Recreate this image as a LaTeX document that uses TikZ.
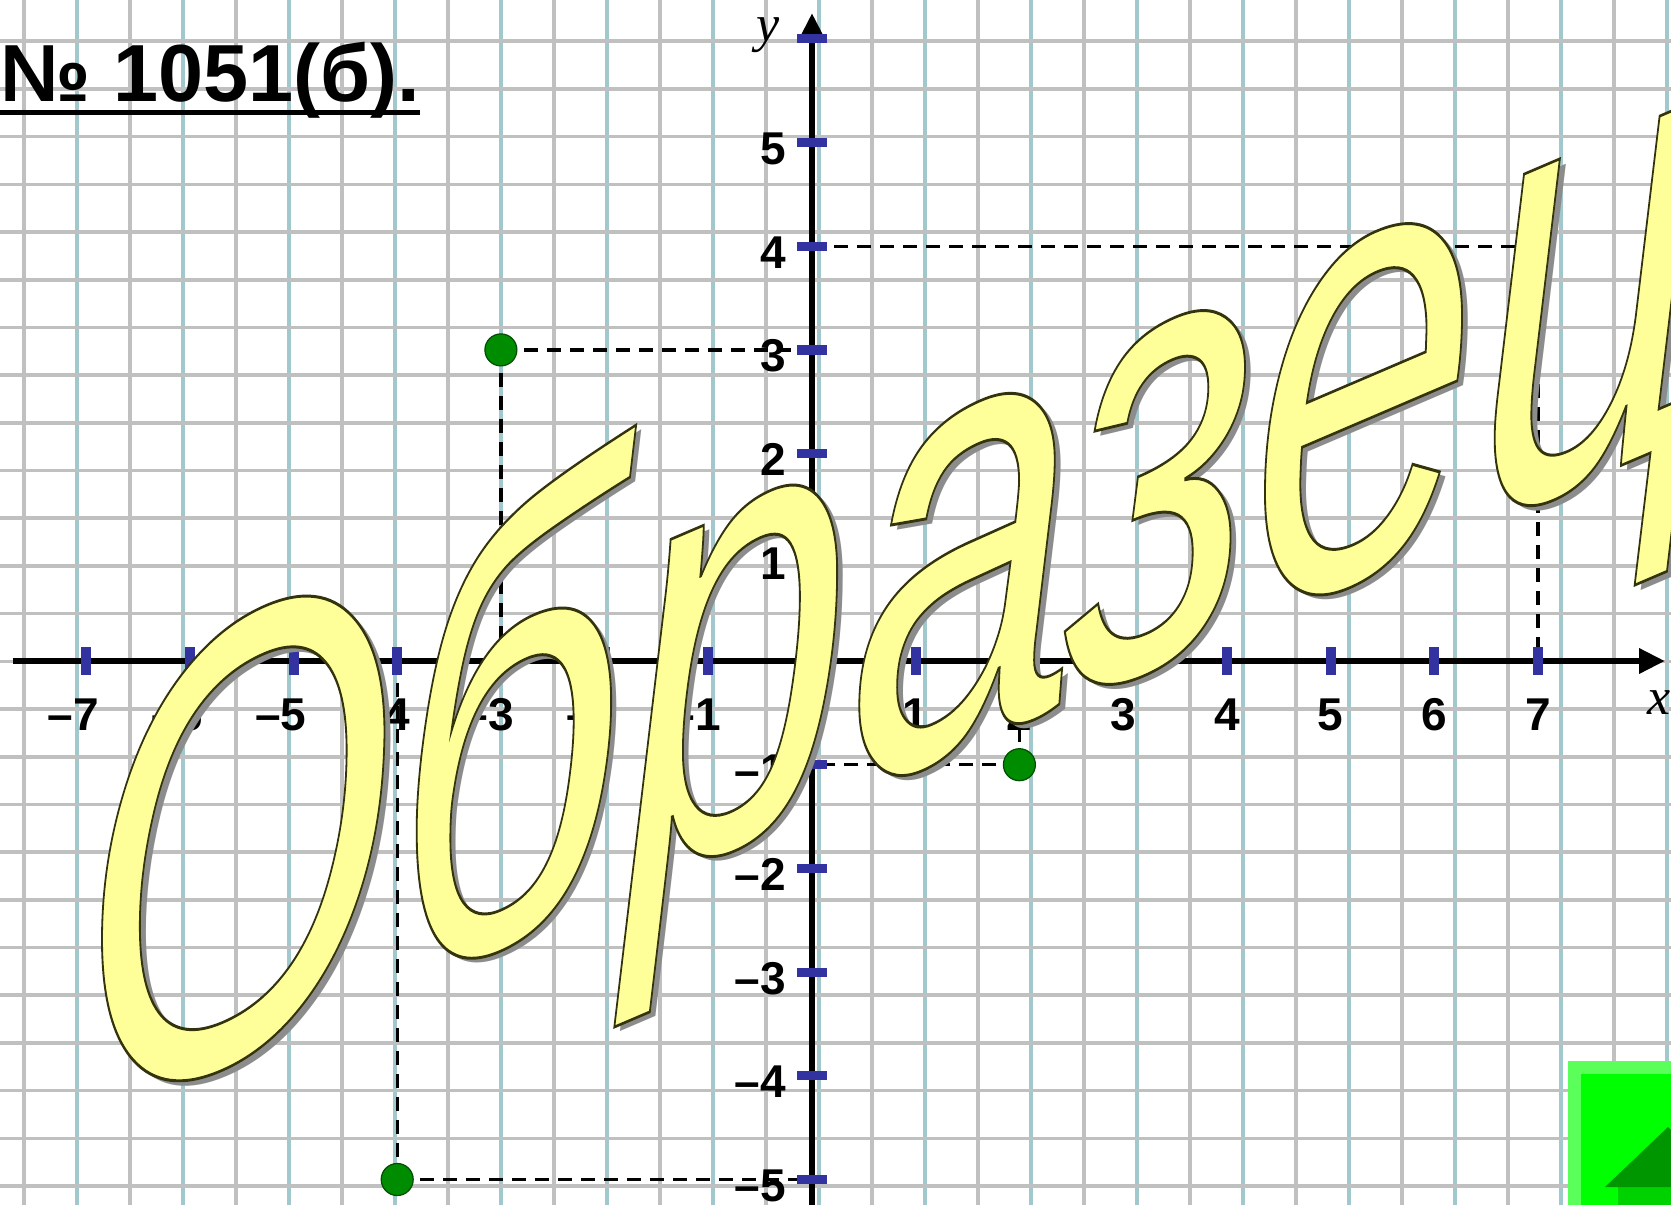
\documentclass[tikz,border=0pt]{standalone}
\usepackage{fontspec}
\setmainfont{Liberation Sans}
\newfontfamily\serifit{Liberation Serif}
\newfontfamily\wmfont{Liberation Sans}
\usetikzlibrary{arrows.meta}
\definecolor{gridgray}{RGB}{192,192,192}
\definecolor{gridteal}{RGB}{160,200,205}
\definecolor{tickblue}{RGB}{50,50,160}
\definecolor{dotgreen}{RGB}{0,140,0}
\definecolor{dotred}{RGB}{225,50,30}
\definecolor{wmyellow}{RGB}{255,255,153}
\definecolor{btnlight}{RGB}{90,255,90}
\definecolor{btngreen}{RGB}{0,255,0}
\definecolor{btndark}{RGB}{0,150,0}
\definecolor{btnmid}{RGB}{0,210,0}
\begin{document}
\begin{tikzpicture}[x=0.5pt,y=-0.5pt,
  gridline/.style={line width=1.8pt},
  axisline/.style={line width=3.2pt,-{Triangle[length=13pt,width=12pt]}},
  dashline/.style={line width=1.6pt,dash pattern=on 7pt off 4.5pt},
  ticklab/.style={font=\bfseries\fontsize{23}{23}\selectfont,inner sep=0pt},
  axlab/.style={font=\serifit\itshape\fontsize{26}{26}\selectfont,inner sep=0pt},
  gdot/.style={circle,fill=dotgreen,draw=black!70!green,line width=0.6pt,minimum size=16pt,inner sep=0pt},
  rdot/.style={circle,fill=dotred,minimum size=9pt,inner sep=0pt},
  wm/.style={anchor=base west,inner sep=0pt,outer sep=0pt,yslant=0.428,xscale=2.03,yscale=3.15,font=\wmfont\itshape\fontsize{100}{100}\selectfont},
  titlestyle/.style={font=\bfseries\fontsize{40.5}{40.5}\selectfont,inner sep=0pt}]
\useasboundingbox (0,0) rectangle (1671,1205);
\clip (0,0) rectangle (1671,1205);
\fill[white] (0,0) rectangle (1671,1205);
% grid
\foreach \k in {0,2,...,30}{\draw[gridline,gridgray] ({24+53*\k},0) -- ({24+53*\k},1205);}
\foreach \k in {1,3,...,31}{\draw[gridline,gridteal] ({24+53*\k},0) -- ({24+53*\k},1205);}
\foreach \k in {0,...,24}{\draw[gridline,gridgray] (0,{41.2+47.7*\k}) -- (1671,{41.2+47.7*\k});}
% coordinate system
\begin{scope}[shift={(812,661)},x=51.85pt,y=51.85pt]
  \coordinate (O) at (0,0);
  \coordinate (A) at (-3,3);
  \coordinate (B) at (7,4);
  \coordinate (C) at (2,-1);
  \coordinate (D) at (-4,-5);
  \coordinate (xL) at (-7.705,0);
  \coordinate (xR) at (8.226,0);
  \coordinate (yB) at (0,-5.5);
  \coordinate (yT) at (0,6.249);
  \draw[dashline] (A) -- (A -| O);
  \draw[dashline] (A) -- (A |- O);
  \draw[dashline] (B) -- (B -| O);
  \draw[dashline] (B) -- (B |- O);
  \draw[dashline] (C) -- (C -| O);
  \draw[dashline] (C) -- (C |- O);
  \draw[dashline] (D) -- (D -| O);
  \draw[dashline] (D) -- (D |- O);
  \draw[axisline] (xL) -- (xR);
  \draw[axisline] (yB) -- (yT);
  \foreach \i in {-7,...,-1,1,2,...,7}{
    \fill[tickblue] ([xshift=-2.5pt,yshift=-7pt]\i,0) rectangle ([xshift=2.5pt,yshift=7pt]\i,0);}
  \foreach \j in {-5,...,-1,1,2,...,6}{
    \fill[tickblue] ([xshift=-7.5pt,yshift=-2.3pt]0,\j) rectangle ([xshift=7.5pt,yshift=2.3pt]0,\j);}
  \foreach \i in {-7,...,-1}{
    \node[ticklab,anchor=base,yshift=-34.5pt] (xl\i) at (\i,0) {\llap{\textendash}\the\numexpr-\i\relax};}
  \foreach \i in {1,...,7}{
    \node[ticklab,anchor=base,yshift=-34.5pt] (xl\i) at (\i,0) {\i};}
  \foreach \j in {1,...,5}{
    \node[ticklab,anchor=base east,xshift=-13pt,yshift=-11pt] (yl\j) at (0,\j) {\j};}
  \foreach \j in {-5,...,-1}{
    \node[ticklab,anchor=base east,xshift=-13pt,yshift=-11pt] (yl\j) at (0,\j) {\textendash\the\numexpr-\j\relax};}
  \node[axlab] (ylab) at ([xshift=-22pt,yshift=-11pt]yT) {y};
  \node[axlab] (xlab) at ([xshift=-3pt,yshift=-21pt]xR) {x};
  \node[gdot] (pA) at (A) {};
  \node[gdot] (pB) at (B) {};
  \node[gdot] (pC) at (C) {};
  \node[gdot] (pD) at (D) {};
  \node[rdot] (pO) at (O) {};
\end{scope}
% watermark
\node[wm,text=black!45] (wmshadow) at (86,1130) {Образец};
\node[wm,text=wmyellow] (wmtext) at (80,1125) {\special{pdf:literal direct 0.2 0.2 0.05 RG 0.45 w 2 Tr}Образец\special{pdf:literal direct 0 Tr}};
% title
\node[titlestyle,anchor=base west] (title) at (0,101) {№ 1051(б).};
\draw[line width=2.5pt] ([yshift=-5.5pt]title.base west) -- ([yshift=-5.5pt]title.base east);
% green button
\fill[btnlight] (1568,1061) rectangle (1671,1205);
\fill[btngreen] (1581,1074) rectangle (1671,1205);
\fill[btnmid] (1618,1187) rectangle (1718,1205);
\fill[btndark] (1605,1187) -- (1668,1127) -- (1731,1187) -- cycle;
\end{tikzpicture}
\end{document}
